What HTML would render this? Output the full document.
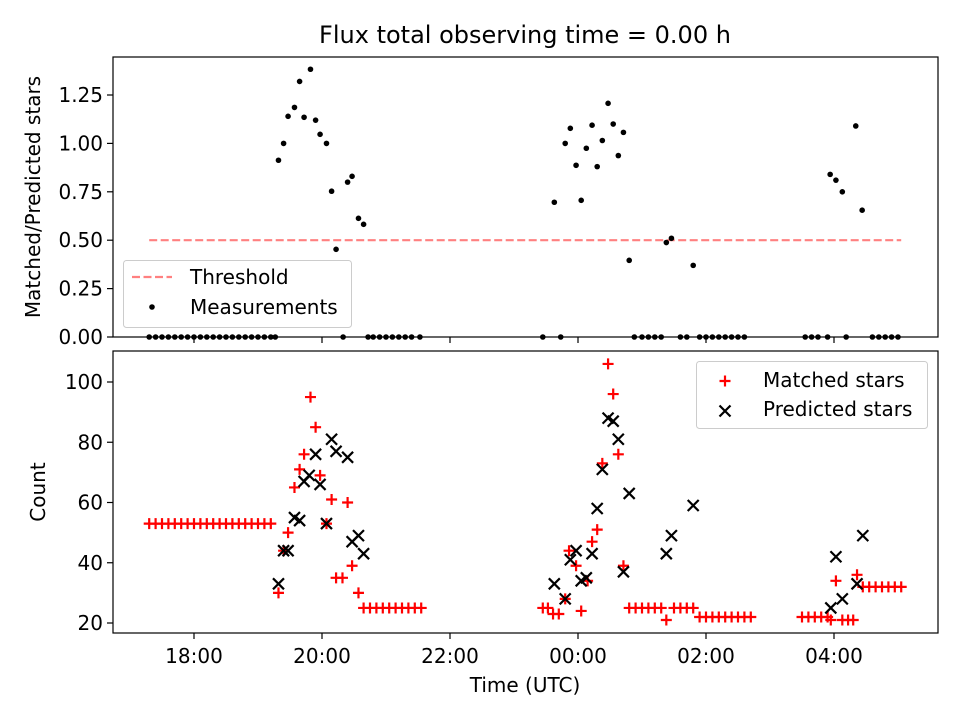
<!DOCTYPE html>
<html><head><meta charset="utf-8"><style>
body{margin:0;background:#fff;}
svg{display:block;font-family:"DejaVu Sans","Liberation Sans",sans-serif;}
</style></head><body>
<svg id="chart" width="960" height="720" viewBox="0 0 960 720" xmlns="http://www.w3.org/2000/svg">
<rect width="960" height="720" fill="#fff"/>
<text x="525" y="43" font-size="24" text-anchor="middle">Flux total observing time = 0.00 h</text>
<g id="top"></g><g id="bot"></g>
</svg>
<script>
// ---- data (hours since 00:00 of first day; 24+ = next day) ----
const ratioHours = [19.32,19.40,19.47,19.57,19.65,19.72,19.82,19.90,19.97,20.07,20.15,20.22,20.40,20.47,20.57,20.65,
 23.63,23.80,23.88,23.97,24.05,24.13,24.22,24.30,24.38,24.47,24.55,24.63,24.71,24.80,25.38,25.46,25.80,
 27.94,28.03,28.13,28.34,28.44];
const ratioValues = [0.913,1.0,1.14,1.186,1.32,1.135,1.383,1.12,1.047,1.0,0.753,0.453,0.80,0.83,0.613,0.582,
 0.696,1.0,1.078,0.887,0.706,0.975,1.094,0.88,1.015,1.207,1.10,0.937,1.057,0.396,0.488,0.51,0.37,
 0.84,0.81,0.75,1.09,0.655];
const zeroHours = [17.3,17.4,17.5,17.6,17.7,17.8,17.9,18.0,18.1,18.2,18.3,18.4,18.5,18.6,18.7,18.8,18.9,19.0,19.1,19.2,19.27,
 20.33,20.72,20.8,20.9,21.0,21.1,21.2,21.3,21.4,21.53,23.45,23.73,
 24.88,25.0,25.1,25.2,25.3,25.6,25.7,25.9,26.0,26.1,26.2,26.3,26.4,26.5,26.6,
 27.55,27.65,27.75,27.9,28.19,28.6,28.7,28.8,28.9,29.0];
const threshold = 0.5;
const thresholdRange = [17.3, 29.05];

const matchedHours = [17.3,17.4,17.5,17.6,17.7,17.8,17.9,18.0,18.1,18.2,18.3,18.4,18.5,18.6,18.7,18.8,18.9,19.0,19.1,19.2,
 19.32,19.40,19.47,19.57,19.65,19.72,19.82,19.90,19.97,20.07,20.15,20.22,20.32,20.40,20.47,20.57,
 20.65,20.75,20.85,20.95,21.05,21.15,21.25,21.35,21.45,21.55,
 23.45,23.53,23.61,23.70,23.80,23.86,23.97,24.05,24.15,24.22,24.30,24.38,24.47,24.55,24.63,24.71,
 24.8,24.9,25.0,25.1,25.2,25.3,25.38,25.5,25.6,25.7,25.8,
 25.9,26.0,26.1,26.2,26.3,26.4,26.5,26.6,26.7,
 27.5,27.6,27.7,27.8,27.9,27.95,28.03,28.13,28.22,28.3,28.36,
 28.45,28.55,28.65,28.75,28.85,28.95,29.05];
const matchedValues = [53,53,53,53,53,53,53,53,53,53,53,53,53,53,53,53,53,53,53,53,
 30,44,50,65,71,76,95,85,69,53,61,35,35,60,39,30,
 25,25,25,25,25,25,25,25,25,25,
 25,25,23,23,28,44,39,24,34,47,51,73,106,96,76,39,
 25,25,25,25,25,25,21,25,25,25,25,
 22,22,22,22,22,22,22,22,22,
 22,22,22,22,22,21,34,21,21,21,36,
 32,32,32,32,32,32,32];
const predictedHours = [19.32,19.40,19.47,19.57,19.65,19.72,19.80,19.90,19.97,20.07,20.15,20.22,20.40,20.47,20.57,20.65,
 23.63,23.80,23.88,23.97,24.05,24.13,24.22,24.30,24.38,24.47,24.55,24.63,24.71,24.80,25.38,25.46,25.80,
 27.95,28.03,28.13,28.36,28.45];
const predictedValues = [33,44,44,55,54,67,69,76,66,53,81,77,75,47,49,43,
 33,28,41,44,34,35,43,58,71,88,87,81,37,63,43,49,59,
 25,42,28,33,49];
const xTicks = [18,20,22,24,26,28];
const xTickLabels = ["18:00","20:00","22:00","00:00","02:00","04:00"];
const topYTicks = [0,0.25,0.5,0.75,1.0,1.25];
const botYTicks = [20,40,60,80,100];

// ---- axes ----
const L=113,R=938;
const X=h=>194+(h-18)*64;
const T={top:57,bot:337}, B={top:351,bot:633};
const Yt=v=>337-v*193.6;
const Yb=v=>623-(v-20)*3.0125;
const FS=20;
const NS="http://www.w3.org/2000/svg";
function mk(parent,tag,attrs,text){const e=document.createElementNS(NS,tag);for(const k in attrs)e.setAttribute(k,attrs[k]);if(text!==undefined)e.textContent=text;parent.appendChild(e);return e;}
const gt=document.getElementById('top'), gb=document.getElementById('bot');

// top panel
let frame=mk(gt,'rect',{x:L,y:T.top,width:R-L,height:T.bot-T.top,fill:'none',stroke:'#000','stroke-width':1.2});


topYTicks.forEach(v=>{
 const t=mk(gt,'line',{x1:L-6,x2:L,y1:Yt(v),y2:Yt(v),stroke:'#000','stroke-width':1.2});
 
 
 const lb=mk(gt,'text',{x:L-10,y:Yt(v)+7,'font-size':FS,'text-anchor':'end'},v.toFixed(2));
 
 
});
xTicks.forEach(h=>{
 const t=mk(gt,'line',{x1:X(h),x2:X(h),y1:T.bot,y2:T.bot+6,stroke:'#000','stroke-width':1.2});
 
 
});
let yl=mk(gt,'text',{x:0,y:0,'font-size':FS,'text-anchor':'middle',transform:'translate(40,197) rotate(-90)'},'Matched/Predicted stars');


let th=mk(gt,'line',{x1:X(thresholdRange[0]),x2:X(thresholdRange[1]),y1:Yt(threshold),y2:Yt(threshold),stroke:'#ff8080','stroke-width':2.2,'stroke-dasharray':'8,3.5'});


ratioHours.forEach((h,i)=>{
 const c=mk(gt,'circle',{cx:X(h),cy:Yt(ratioValues[i]),r:2.8,fill:'#000'});
 
 
});
zeroHours.forEach(h=>{
 const c=mk(gt,'circle',{cx:X(h),cy:Yt(0),r:2.8,fill:'#000'});
 
 
});
// top legend
let lg=mk(gt,'g',{});


mk(lg,'rect',{x:123.5,y:260.5,width:228,height:67,rx:3,fill:'#fff','fill-opacity':0.8,stroke:'#ccc'});
mk(lg,'line',{x1:132,x2:172,y1:277,y2:277,stroke:'#ff8080','stroke-width':2.2,'stroke-dasharray':'8,3.5'});
let lt1=mk(lg,'text',{x:190,y:284,'font-size':FS},'Threshold');


mk(lg,'circle',{cx:152,cy:307,r:2.8,fill:'#000'});
let lt2=mk(lg,'text',{x:190,y:314,'font-size':FS},'Measurements');



// bottom panel
let frame2=mk(gb,'rect',{x:L,y:B.top,width:R-L,height:B.bot-B.top,fill:'none',stroke:'#000','stroke-width':1.2});


botYTicks.forEach(v=>{
 const t=mk(gb,'line',{x1:L-6,x2:L,y1:Yb(v),y2:Yb(v),stroke:'#000','stroke-width':1.2});
 
 
 const lb=mk(gb,'text',{x:L-10,y:Yb(v)+7,'font-size':FS,'text-anchor':'end'},String(v));
 
 
});
xTicks.forEach((h,i)=>{
 const t=mk(gb,'line',{x1:X(h),x2:X(h),y1:B.bot,y2:B.bot+6,stroke:'#000','stroke-width':1.2});
 
 
 const lb=mk(gb,'text',{x:X(h),y:663,'font-size':FS,'text-anchor':'middle'},xTickLabels[i]);
 
 
});
let yl2=mk(gb,'text',{x:0,y:0,'font-size':FS,'text-anchor':'middle',transform:'translate(45,492) rotate(-90)'},'Count');


let xl=mk(gb,'text',{x:525,y:692,'font-size':FS,'text-anchor':'middle'},'Time (UTC)');


function plus(g,x,y){const p=mk(g,'path',{d:`M${x-5.5},${y}H${x+5.5}M${x},${y-5.5}V${y+5.5}`,stroke:'#ff0000','stroke-width':2.2,fill:'none'});return p;}
function cross(g,x,y){const p=mk(g,'path',{d:`M${x-5.5},${y-5.5}L${x+5.5},${y+5.5}M${x-5.5},${y+5.5}L${x+5.5},${y-5.5}`,stroke:'#000','stroke-width':2.2,fill:'none'});return p;}
matchedHours.forEach((h,i)=>{
 const p=plus(gb,X(h),Yb(matchedValues[i]));
 
 
});
predictedHours.forEach((h,i)=>{
 const p=cross(gb,X(h),Yb(predictedValues[i]));
 
 
});
let lg2=mk(gb,'g',{});


mk(lg2,'rect',{x:696.5,y:361.5,width:231,height:67,rx:3,fill:'#fff','fill-opacity':0.8,stroke:'#ccc'});
plus(lg2,725,381);
let lt3=mk(lg2,'text',{x:763,y:387,'font-size':FS},'Matched stars');


cross(lg2,725,411);
let lt4=mk(lg2,'text',{x:763,y:416,'font-size':FS},'Predicted stars');


</script>
</body></html>
